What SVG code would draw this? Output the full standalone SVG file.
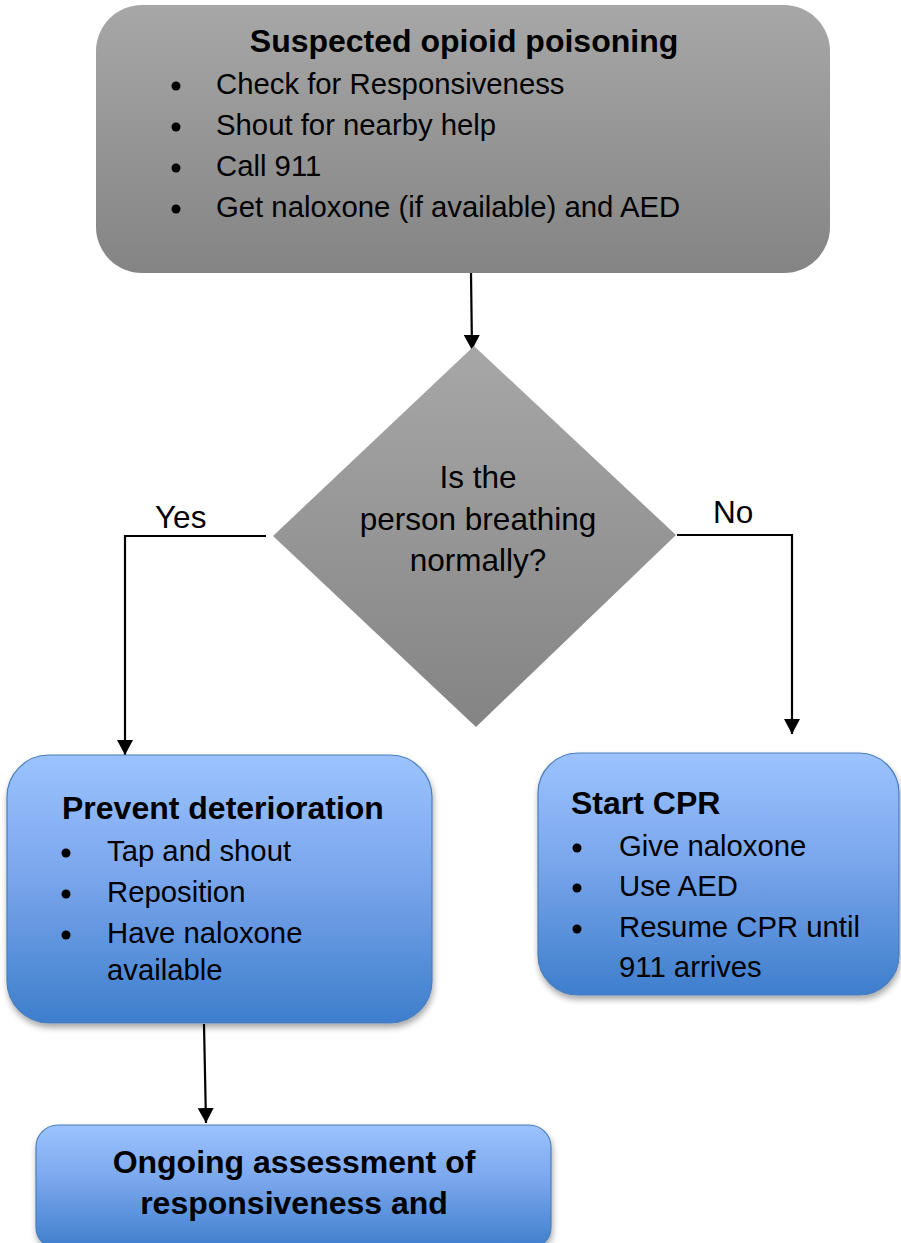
<svg xmlns="http://www.w3.org/2000/svg" width="901" height="1243" viewBox="0 0 901 1243">
<defs>
<linearGradient id="gray" x1="0" y1="0" x2="0" y2="1">
<stop offset="0" stop-color="#a7a7a7"/>
<stop offset="1" stop-color="#848484"/>
</linearGradient>
<linearGradient id="blue" x1="0" y1="0" x2="0" y2="1">
<stop offset="0" stop-color="#9cc3ff"/>
<stop offset="0.45" stop-color="#7aa6ec"/>
<stop offset="1" stop-color="#3e7ecc"/>
</linearGradient>
<filter id="shadow" x="-10%" y="-10%" width="120%" height="125%">
<feDropShadow dx="1" dy="4" stdDeviation="3" flood-color="#000" flood-opacity="0.35"/>
</filter>
<marker id="arrow" viewBox="0 0 15 16" refX="15" refY="8" markerWidth="15" markerHeight="16" markerUnits="userSpaceOnUse" orient="auto">
<path d="M0,0 L15,8 L0,16 z" fill="#000"/>
</marker>
<style>
text{font-family:"Liberation Sans",Arial,sans-serif;fill:#000}
.t{font-size:32px;font-weight:bold}
.b{font-size:29.3px}
.q{font-size:31.5px}
.grayfill{fill:url(#gray)}
.bluebox{fill:url(#blue);stroke:#4a7ebb;stroke-width:1.2;filter:url(#shadow)}
.conn{fill:none;stroke:#000;stroke-width:2.2;marker-end:url(#arrow)}
.dot{fill:#000}
</style>
</defs>

<g id="connectors">
<path class="conn" d="M471,273 L472,350"/>
<path class="conn" d="M266,536 L125,536 L125,755"/>
<path class="conn" d="M677,535 L792,535 L792,734"/>
<path class="conn" d="M204,1024 L206,1123"/>
</g>
<g id="labels">
<text class="q" x="155" y="528">Yes</text>
<text class="q" x="713" y="523">No</text>
</g>

<g id="node-start">
<rect class="grayfill" x="96" y="5" width="734" height="268" rx="46" ry="46"/>
<text class="t" x="464" y="52" text-anchor="middle">Suspected opioid poisoning</text>
<circle class="dot" cx="176" cy="86" r="4.5"/>
<circle class="dot" cx="176" cy="127" r="4.5"/>
<circle class="dot" cx="176" cy="168" r="4.5"/>
<circle class="dot" cx="176" cy="209" r="4.5"/>
<text class="b" x="216" y="94">Check for Responsiveness</text>
<text class="b" x="216" y="135">Shout for nearby help</text>
<text class="b" x="216" y="176">Call 911</text>
<text class="b" x="216" y="217">Get naloxone (if available) and AED</text>
</g>

<g id="node-decision">
<polygon class="grayfill" points="474,346 676,535 476,727 273,536"/>
<text class="q" x="478" y="488" text-anchor="middle">Is the</text>
<text class="q" x="478" y="530" text-anchor="middle">person breathing</text>
<text class="q" x="478" y="571" text-anchor="middle">normally?</text>
</g>

<g id="node-prevent">
<rect class="bluebox" x="7" y="755" width="425" height="268" rx="42" ry="42"/>
<text class="t" x="62" y="819">Prevent deterioration</text>
<circle class="dot" cx="66" cy="853" r="4.5"/>
<circle class="dot" cx="66" cy="894" r="4.5"/>
<circle class="dot" cx="66" cy="935" r="4.5"/>
<text class="b" x="107" y="861">Tap and shout</text>
<text class="b" x="107" y="902">Reposition</text>
<text class="b" x="107" y="943">Have naloxone</text>
<text class="b" x="107" y="980">available</text>
</g>

<g id="node-cpr">
<rect class="bluebox" x="538" y="753" width="361" height="242" rx="40" ry="40"/>
<text class="t" x="571" y="814">Start CPR</text>
<circle class="dot" cx="577" cy="848" r="4.5"/>
<circle class="dot" cx="577" cy="888" r="4.5"/>
<circle class="dot" cx="577" cy="929" r="4.5"/>
<text class="b" x="619" y="856">Give naloxone</text>
<text class="b" x="619" y="896">Use AED</text>
<text class="b" x="619" y="937">Resume CPR until</text>
<text class="b" x="619" y="977">911 arrives</text>
</g>

<g id="node-ongoing">
<rect class="bluebox" x="36" y="1125" width="515" height="124" rx="22" ry="22"/>
<text class="t" x="294" y="1173" text-anchor="middle">Ongoing assessment of</text>
<text class="t" x="294" y="1214" text-anchor="middle">responsiveness and</text>
</g>
</svg>
